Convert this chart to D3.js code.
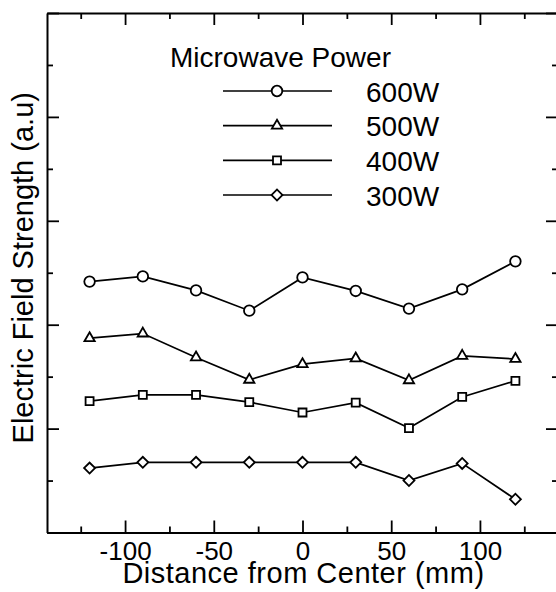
<!DOCTYPE html>
<html>
<head>
<meta charset="utf-8">
<script src="https://cdn.jsdelivr.net/npm/d3@7"></script>
<style>
  body { margin: 0; background: #fff; }
  svg { display: block; font-family: "Liberation Sans", Arial, Helvetica, sans-serif; }
</style>
</head>
<body>
<div id="chart"></div>
<script>
// Distance from center (mm)
const distances = [-120, -90, -60, -30, 0, 30, 60, 90, 120];

// Electric field strength (a.u)
const power600 = [4.83, 4.93, 4.66, 4.27, 4.91, 4.65, 4.31, 4.68, 5.22];
const power500 = [3.74, 3.83, 3.37, 2.94, 3.24, 3.35, 2.93, 3.40, 3.34];
const power400 = [2.53, 2.65, 2.65, 2.51, 2.31, 2.50, 2.01, 2.61, 2.92];
const power300 = [1.24, 1.35, 1.35, 1.35, 1.35, 1.35, 1.00, 1.33, 0.64];

const seriesNames = ["600W", "500W", "400W", "300W"];
const seriesValues = [power600, power500, power400, power300];
const seriesSymbols = ["circle", "triangle", "square", "diamond"];

const xMajorTicks = [-100, -50, 0, 50, 100];
const xMinorTicks = [-125, -75, -25, 25, 75, 125];
const yMajorTicks = [0, 2, 4, 6, 8, 10];
const yMinorTicks = [1, 3, 5, 7, 9];

const width = 556;
const height = 592;

const svg = d3.select("#chart")
    .append("svg")
    .attr("width", width)
    .attr("height", height);

// Plot area - the right edge sits just outside the picture
const plotLeft = 47, plotRight = 558, plotTop = 13, plotBottom = 532.5;

const x = d3.scaleLinear().domain([-144, 144]).range([plotLeft, plotRight]);
const y = d3.scaleLinear().domain([0, 10]).range([plotBottom, plotTop]);

// Axes helper: major ticks long, minor short, all pointing inward
function drawAxis(axisFn, scale, transform, major, minor, withLabels) {
    const g = svg.append("g").attr("transform", transform);
    g.call(axisFn(scale).tickValues(major).tickSizeInner(-12).tickSizeOuter(0)
        .tickFormat(withLabels ? (d => String(d)) : ""));
    const gm = svg.append("g").attr("transform", transform);
    gm.call(axisFn(scale).tickValues(minor).tickSizeInner(-6).tickSizeOuter(0).tickFormat(""));
    gm.select(".domain").remove();
    [g, gm].forEach(s => {
        s.selectAll("line").attr("stroke", "#000").attr("stroke-width", 1.8);
        s.select(".domain").attr("stroke", "#000").attr("stroke-width", 2);
    });
    return g;
}

const xAxisBottom = drawAxis(d3.axisBottom, x, `translate(0,${plotBottom})`, xMajorTicks, xMinorTicks, true);
xAxisBottom.selectAll("text")
    .attr("font-size", 26)
    .attr("font-family", "Liberation Sans, Arial, sans-serif")
    .attr("fill", "#000")
    .attr("dy", null)
    .attr("y", 27.5);
drawAxis(d3.axisTop, x, `translate(0,${plotTop})`, xMajorTicks, xMinorTicks, false);
drawAxis(d3.axisLeft, y, `translate(${plotLeft},0)`, yMajorTicks, yMinorTicks, false);
drawAxis(d3.axisRight, y, `translate(${plotRight},0)`, yMajorTicks, yMinorTicks, false);

// Axis titles
svg.append("text")
    .attr("x", (x(-144) + x(144)) / 2 + 1)
    .attr("y", 583)
    .attr("text-anchor", "middle")
    .attr("font-size", 29)
    .attr("letter-spacing", 0.5)
    .text("Distance from Center (mm)");

svg.append("text")
    .attr("transform", `translate(33,${y(5) - 5}) rotate(-90)`)
    .attr("text-anchor", "middle")
    .attr("font-size", 29)
    .text("Electric Field Strength (a.u)");

// Symbols
function symbolPath(kind) {
    if (kind === "circle") return d3.symbol(d3.symbolCircle, 88)();
    if (kind === "triangle") return d3.symbol(d3.symbolTriangle, 46)();
    return d3.symbol(d3.symbolSquare, kind === "square" ? 64 : 60)();
}
function symbolTransform(kind, px, py) {
    return `translate(${px},${py})` + (kind === "diamond" ? " rotate(45)" : "");
}

const line = d3.line()
    .x((d, i) => x(distances[i]))
    .y(d => y(d));

seriesValues.forEach((vals, si) => {
    const kind = seriesSymbols[si];
    svg.append("path")
        .datum(vals)
        .attr("fill", "none")
        .attr("stroke", "#000")
        .attr("stroke-width", 1.7)
        .attr("d", line);

    svg.append("g")
        .selectAll("path")
        .data(vals)
        .join("path")
        .attr("d", symbolPath(kind))
        .attr("transform", (d, i) => symbolTransform(kind, x(distances[i]), y(d)))
        .attr("fill", "#fff")
        .attr("stroke", "#000")
        .attr("stroke-width", 1.8);
});

// Legend
svg.append("text")
    .attr("x", 170)
    .attr("y", 67)
    .attr("font-size", 28)
    .text("Microwave Power");

const legendRow = d3.scaleLinear().domain([0, 3]).range([91, 195]);
const legend = svg.append("g");
seriesNames.forEach((name, i) => {
    const ly = legendRow(i);
    const kind = seriesSymbols[i];
    legend.append("line")
        .attr("x1", 223).attr("x2", 332)
        .attr("y1", ly).attr("y2", ly)
        .attr("stroke", "#000")
        .attr("stroke-width", 1.7);
    legend.append("path")
        .attr("d", symbolPath(kind))
        .attr("transform", symbolTransform(kind, 277, ly))
        .attr("fill", "#fff")
        .attr("stroke", "#000")
        .attr("stroke-width", 1.8);
    legend.append("text")
        .attr("x", 366)
        .attr("y", ly + 10.5)
        .attr("font-size", 28)
        .text(name);
});
</script>
</body>
</html>
